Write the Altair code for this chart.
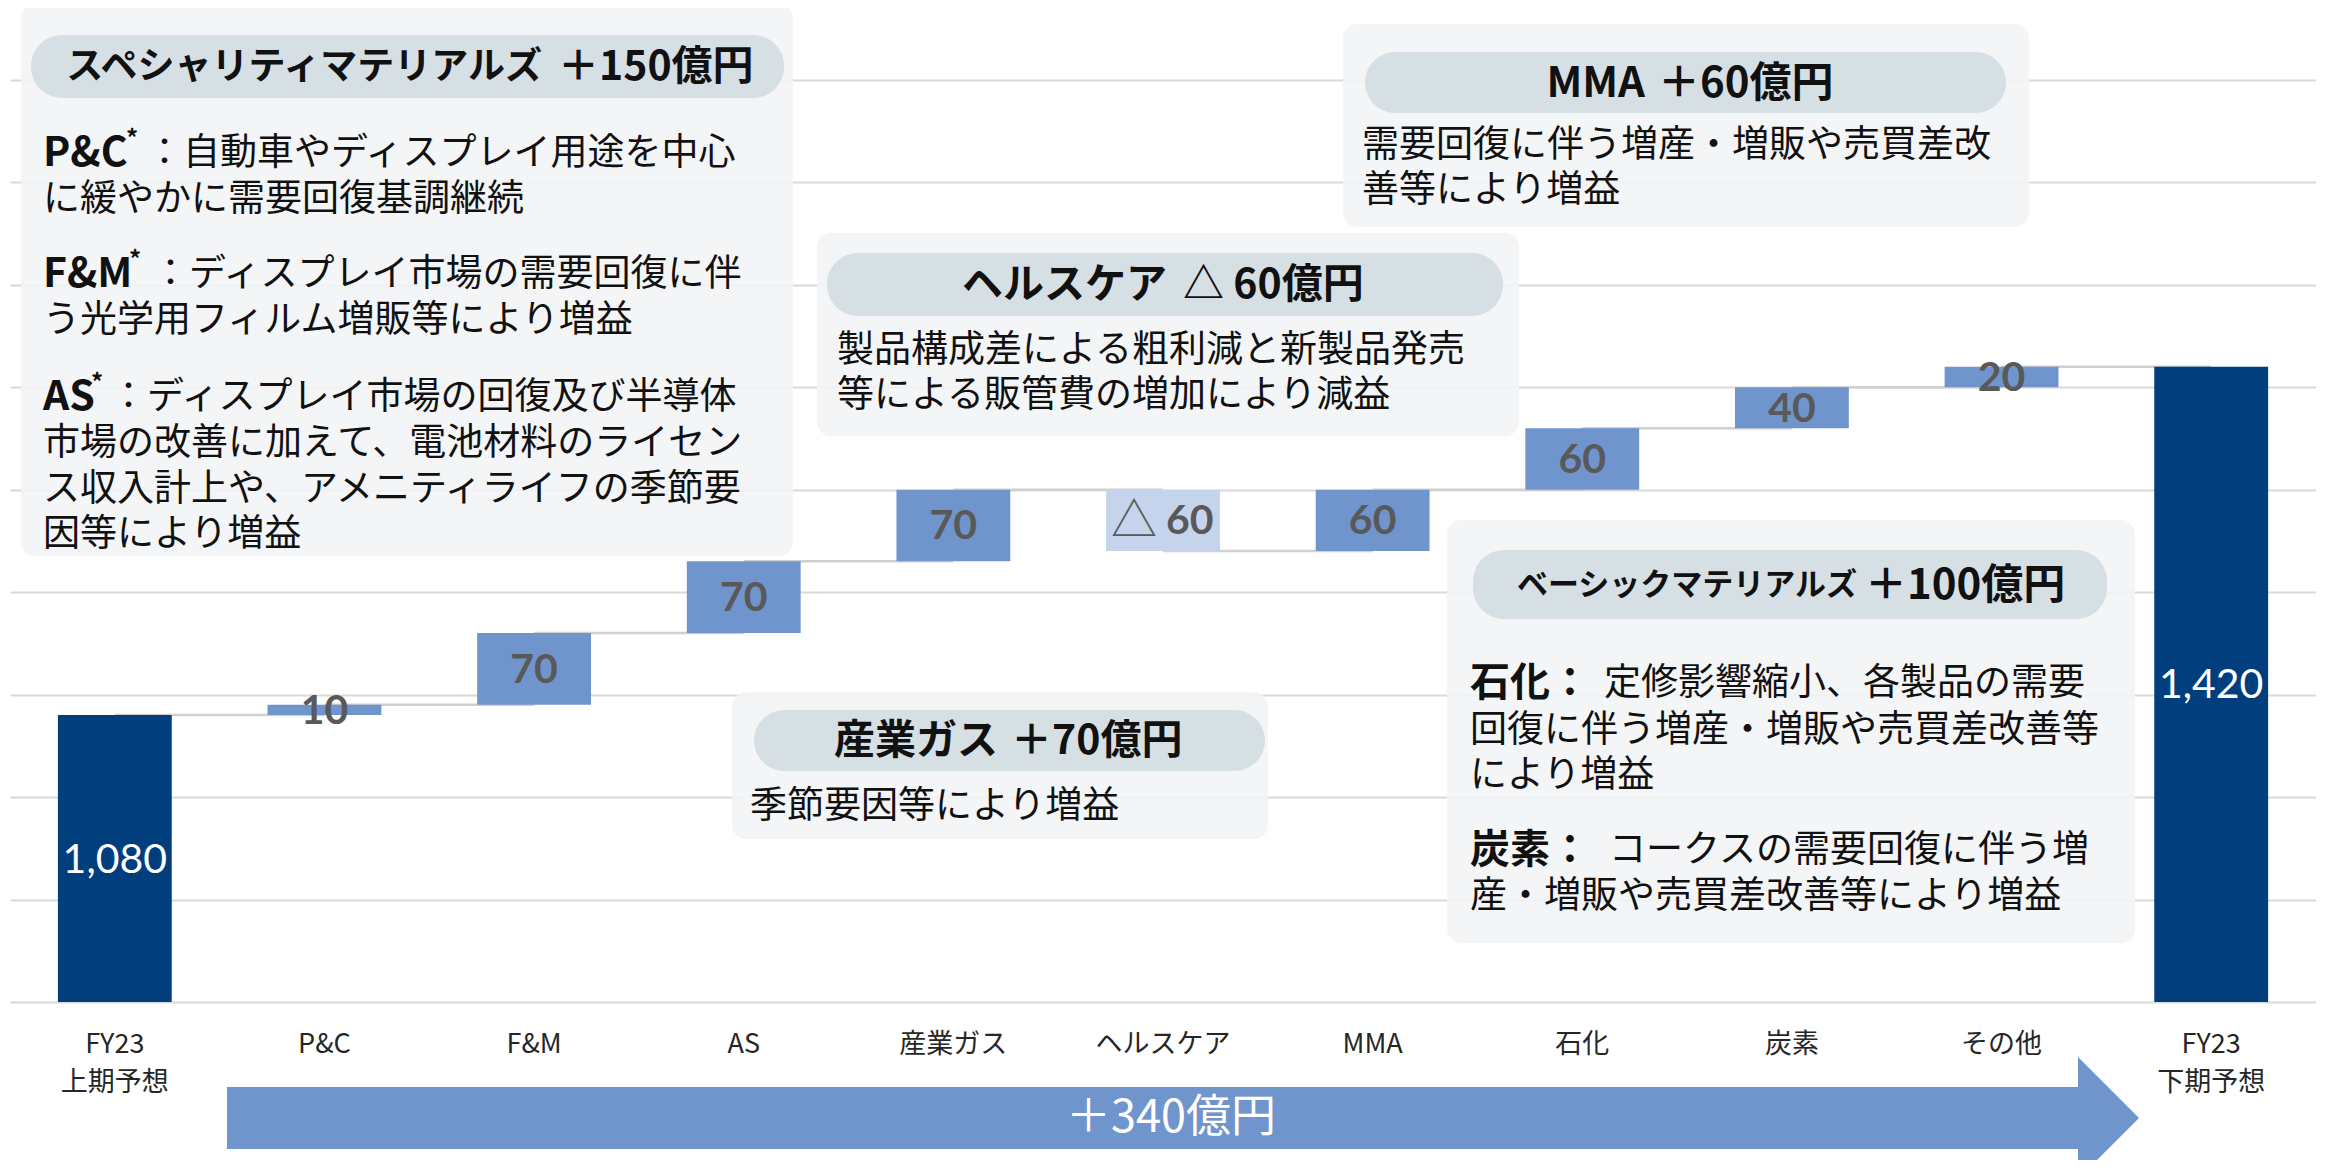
import altair as alt
import pandas as pd

# ---------------- data ----------------
categories = ["FY23\n上期予想", "P&C", "F&M", "AS", "産業ガス", "ヘルスケア",
              "MMA", "石化", "炭素", "その他", "FY23\n下期予想"]
values = [1080, 10, 70, 70, 70, -60, 60, 60, 40, 20, 1420]
is_total = [True, False, False, False, False, False, False, False, False, False, True]
total_change = "＋340億円"

# annotation content
spec_title = ["スペシャリティマテリアルズ", "＋150億円"]
spec_prefix = ["P&C", "F&M", "AS"]
spec_lines = [
    "：自動車やディスプレイ用途を中心", "に緩やかに需要回復基調継続",
    "：ディスプレイ市場の需要回復に伴", "う光学用フィルム増販等により増益",
    "：ディスプレイ市場の回復及び半導体", "市場の改善に加えて、電池材料のライセン",
    "ス収入計上や、アメニティライフの季節要", "因等により増益",
]
health_title = ["ヘルスケア", "△ 60億円"]
health_lines = ["製品構成差による粗利減と新製品発売", "等による販管費の増加により減益"]
mma_title = ["MMA", "＋60億円"]
mma_lines = ["需要回復に伴う増産・増販や売買差改", "善等により増益"]
gas_title = ["産業ガス", "＋70億円"]
gas_lines = ["季節要因等により増益"]
basic_title = ["ベーシックマテリアルズ", "＋100億円"]
basic_prefix = ["石化：", "炭素："]
basic_lines = ["定修影響縮小、各製品の需要", "回復に伴う増産・増販や売買差改善等", "により増益",
               "コークスの需要回復に伴う増", "産・増販や売買差改善等により増益"]

# ---------------- style ----------------
JP = "Noto Sans CJK JP"
NUM = "Lato"
NAVY, BLUE, LIGHT = "#003E7E", "#7094CC", "#C5D4EC"
LABEL_GREY = "#595959"
BOX_FILL, PILL_FILL = "#F2F4F6", "#D6DFE4"
TXT = "#111111"
Y_MIN, Y_MAX = 800, 1770
GRID_VALUES = list(range(800, 1701, 100))
W, H = 2306, 994

# ---------------- waterfall table ----------------
rows = []
running = 0
for cat, v, tot in zip(categories, values, is_total):
    if tot:
        start, end, kind, label = 0, v, "total", f"{v:,}"
        running = v
    else:
        start, end = running, running + v
        running = end
        kind = "up" if v >= 0 else "down"
        label = f"{abs(v)}"
    rows.append({"cat": cat, "start": start, "end": end, "kind": kind,
                 "label": label, "mid": (max(start, Y_MIN) + end) / 2})
bars_df = pd.DataFrame(rows)

conn = []
for i in range(len(rows) - 1):
    lvl = rows[i]["end"]
    conn.append({"seg": i, "cat": rows[i]["cat"], "lvl": lvl})
    conn.append({"seg": i, "cat": rows[i + 1]["cat"], "lvl": lvl})
conn_df = pd.DataFrame(conn)

x_enc = alt.X("cat:N", sort=categories, title=None,
              scale=alt.Scale(paddingInner=0.457, paddingOuter=0.2285),
              axis=alt.Axis(labelExpr="split(datum.label, '\\n')", labelAngle=0,
                            labelFontSize=27, labelFont=JP, labelColor="#262626",
                            labelLineHeight=38, labelPadding=29, labelBaseline="top",
                            ticks=False, domain=False, grid=False))
y_scale = alt.Scale(domain=[Y_MIN, Y_MAX], nice=False, zero=False, clamp=True)
y_axis = alt.Axis(values=GRID_VALUES, labels=False, ticks=False, domain=False,
                  title=None, grid=True, gridColor="#D9D9D9", gridWidth=2)

connectors = alt.Chart(conn_df).mark_line(color="#D0D0D0", strokeWidth=2.5).encode(
    x=x_enc, y=alt.Y("lvl:Q", scale=y_scale, axis=y_axis, title=None), detail="seg:N")

base = alt.Chart(bars_df)
bars = base.mark_bar().encode(
    x=x_enc,
    y=alt.Y("start:Q", scale=y_scale, axis=y_axis, title=None), y2="end:Q",
    color=alt.Color("kind:N", scale=alt.Scale(domain=["total", "up", "down"],
                                              range=[NAVY, BLUE, LIGHT]), legend=None))

ymid = alt.Y("mid:Q", scale=y_scale, axis=y_axis, title=None)
up_labels = base.transform_filter("datum.kind == 'up'").mark_text(
    font=NUM, fontWeight="bold", fontSize=41, color=LABEL_GREY, baseline="middle", dy=2
).encode(x=x_enc, y=ymid, text="label:N")
down_labels = base.transform_filter("datum.kind == 'down'").mark_text(
    font=NUM, fontWeight="bold", fontSize=41, color=LABEL_GREY, baseline="middle",
    align="left", dx=3, dy=2
).encode(x=x_enc, y=ymid, text="label:N")
down_sign = base.transform_filter("datum.kind == 'down'").mark_text(
    text="△", font=JP, fontSize=46, color=LABEL_GREY, baseline="middle",
    align="right", dx=-6, dy=2
).encode(x=x_enc, y=ymid)
total_labels = base.transform_filter("datum.kind == 'total'").mark_text(
    font=NUM, fontSize=41, color="white", baseline="middle", dy=2
).encode(x=x_enc, y=ymid, text="label:N")

# ---------------- annotation layout (pixels in plot area) ----------------
boxes_df = pd.DataFrame({
    "x": [11, 807, 1333, 722, 1437], "x2": [783, 1509, 2019, 1258, 2125],
    "y": [-4, 225, 16, 684, 512], "y2": [548, 428, 219, 831, 935]})
pills_df = pd.DataFrame({
    "x": [21, 817, 1355, 744, 1463], "x2": [774, 1493, 1996, 1255, 2097],
    "y": [27, 245, 44, 702, 542], "y2": [90, 308, 105, 763, 611]})

px = lambda f: alt.X(f, scale=None, axis=None)
py = lambda f: alt.Y(f, scale=None, axis=None)

box_layer = alt.Chart(boxes_df).mark_rect(fill=BOX_FILL, opacity=0.88, cornerRadius=14).encode(
    x=px("x:Q"), x2="x2:Q", y=py("y:Q"), y2="y2:Q")
pill_layer = alt.Chart(pills_df).mark_rect(fill=PILL_FILL, cornerRadius=31).encode(
    x=px("x:Q"), x2="x2:Q", y=py("y:Q"), y2="y2:Q")

title_right = [
    (spec_title[0], 532, 60, 37), (health_title[0], 1157, 278, 41),
    (mma_title[0], 1635, 76, 42), (gas_title[0], 988, 734, 41),
    (basic_title[0], 1847, 578, 31)]
title_left = [
    (spec_title[1], 548, 60, 41), (health_title[1], 1173, 278, 41),
    (mma_title[1], 1648, 76, 42), (gas_title[1], 1001, 734, 41),
    (basic_title[1], 1855, 578, 42)]
prefix_items = [
    (spec_prefix[0], 33, 142, 41), (spec_prefix[1], 33, 263, 41), (spec_prefix[2], 33, 386, 41),
    (basic_prefix[0], 1460, 672, 40), (basic_prefix[1], 1460, 839, 40)]
star_items = [("*", 116, 128, 24), ("*", 119, 249, 24), ("*", 81, 372, 24)]
body_items = [
    (spec_lines[0], 136, 142, 37), (spec_lines[1], 33, 188, 37),
    (spec_lines[2], 142, 263, 37), (spec_lines[3], 33, 309, 37),
    (spec_lines[4], 100, 386, 37), (spec_lines[5], 33, 432, 37),
    (spec_lines[6], 33, 478, 37), (spec_lines[7], 33, 523, 37),
    (health_lines[0], 827, 339, 37), (health_lines[1], 827, 384, 37),
    (mma_lines[0], 1352, 134, 37), (mma_lines[1], 1352, 179, 37),
    (gas_lines[0], 740, 795, 37),
    (basic_lines[0], 1594, 672, 37), (basic_lines[1], 1460, 719, 37),
    (basic_lines[2], 1460, 764, 37), (basic_lines[3], 1599, 839, 37),
    (basic_lines[4], 1460, 885, 37)]


def text_layer(items, **mark):
    df = pd.DataFrame(items, columns=["text", "x", "y", "size"])
    return alt.Chart(df).mark_text(font=JP, baseline="middle", **mark).encode(
        x=px("x:Q"), y=py("y:Q"), text="text:N", size=alt.Size("size:Q", scale=None, legend=None))


t_title_r = text_layer(title_right, fontWeight="bold", align="right", color=TXT)
t_title_l = text_layer(title_left, fontWeight="bold", align="left", color=TXT)
t_prefix = text_layer(prefix_items, fontWeight="bold", align="left", color=TXT, dy=4)
t_star = text_layer(star_items, fontWeight="bold", align="left", color=TXT, dy=4)
t_body = text_layer(body_items, align="left", color=TXT, dy=4)

# bottom arrow (+340)
arrow_body_df = pd.DataFrame({"x": [217], "x2": [2070], "y": [1079], "y2": [1141]})
arrow_head_df = pd.DataFrame({"x": [2068], "y": [1110]})
arrow_body = alt.Chart(arrow_body_df).mark_rect(color=BLUE).encode(
    x=px("x:Q"), x2="x2:Q", y=py("y:Q"), y2="y2:Q")
arrow_head = alt.Chart(arrow_head_df).mark_point(
    shape="M 0 -1 L 1 0 L 0 1 Z", filled=True, color=BLUE, opacity=1, size=14884, strokeWidth=0
).encode(x=px("x:Q"), y=py("y:Q"))
arrow_text = text_layer([(total_change, 1161, 1110, 45)], align="center", color="white")

chart = alt.layer(
    connectors, bars, up_labels, down_labels, down_sign, total_labels,
    box_layer, pill_layer, t_title_r, t_title_l, t_prefix, t_star, t_body,
    arrow_body, arrow_head, arrow_text
).properties(
    width=W, height=H,
    autosize=alt.AutoSizeParams(type="none"),
    padding={"left": 2, "top": 0, "right": 0, "bottom": 158},
).configure_view(stroke=None)

chart.save("out.html", embed_options={"renderer": "svg", "actions": False})
